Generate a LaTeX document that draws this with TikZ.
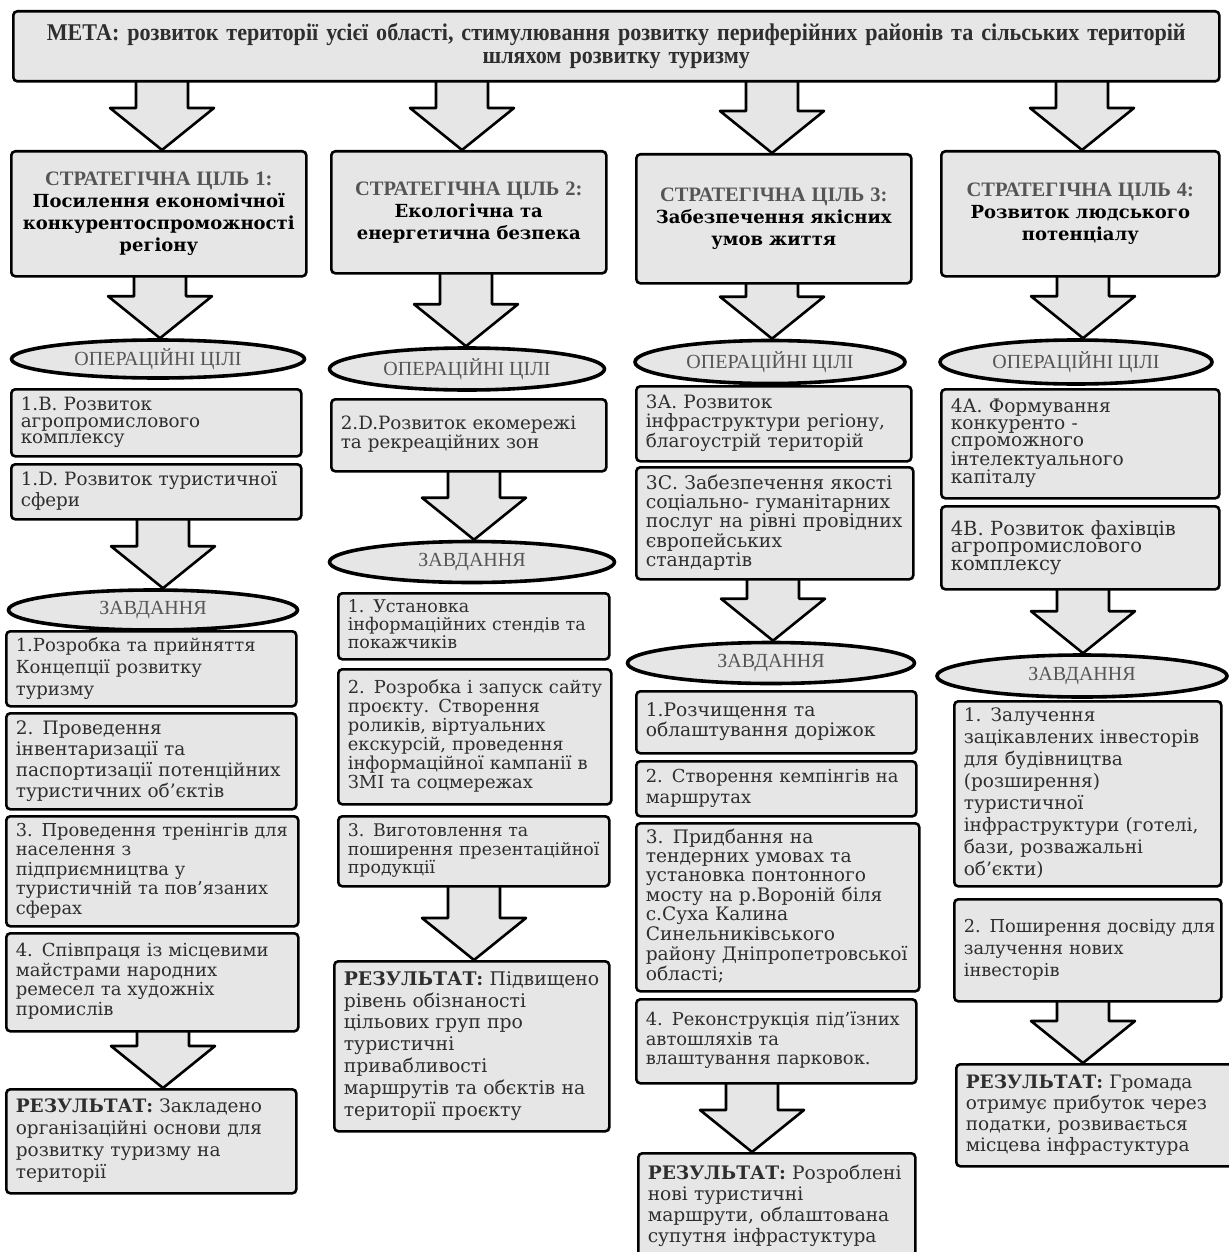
\documentclass[tikz,border=0pt]{standalone}
\usepackage{fontspec}
\setmainfont{DejaVu Serif}
\newfontfamily\timesf{Liberation Serif}
\newfontfamily\metaf[FakeStretch=0.92]{Liberation Serif}
\usetikzlibrary{shapes.geometric,backgrounds,calc}
\definecolor{boxfill}{HTML}{E6E6E6}
\definecolor{txt}{HTML}{2E2E2E}
\definecolor{headc}{HTML}{555555}
\tikzset{
 tbox/.style={draw=black, line width=2.6pt, fill=boxfill, rounded corners=4pt, anchor=north west, align=left, inner xsep=0pt, inner ysep=3pt, text=txt},
 sbox/.style={draw=black, line width=2.6pt, fill=boxfill, rounded corners=4pt, anchor=north west, align=center, inner xsep=0pt, text=black},
 ovalbox/.style={ellipse, draw=black, line width=3.6pt, fill=boxfill, inner sep=0pt, text=headc, font=\timesf\fontsize{20}{22}\selectfont},
 bigarrow/.style={draw=black, line width=2.6pt, fill=boxfill, line join=round},
}
\newcommand\TB[8]{%
 \pgfmathsetmacro\tw{#4-19}%
 \node[tbox, minimum width=#4pt, minimum height=#5pt, text width=\tw pt, font=\fontsize{#6}{#7}\selectfont] (#1) at (#2,#3) {\begin{tabular}{@{}l@{}}#8\end{tabular}};}
\newcommand\BA[3]{%
 \path[bigarrow] let \p1=(#1.south), \p2=(#2.north) in
 ({#3pt-26pt},{\y1+3pt}) -- ({#3pt-26pt},{\y2+42pt}) -- ({#3pt-52pt},{\y2+42pt}) -- (#3pt,\y2) -- ({#3pt+52pt},{\y2+42pt}) -- ({#3pt+26pt},{\y2+42pt}) -- ({#3pt+26pt},{\y1+3pt});}
\begin{document}
\begin{tikzpicture}[x=1pt,y=-1pt]
\useasboundingbox (0,0) rectangle (1228,1252);
% top
\node[sbox, minimum width=1206pt, minimum height=70pt, text width=1196pt, text=txt, font=\metaf\bfseries\fontsize{24}{23}\selectfont] (top) at (12,10) {МЕТА: розвиток території усієї області, стимулювання розвитку периферійних районів та сільських територій\\ шляхом розвитку туризму};
% strategic goals
\node[sbox, minimum width=295pt, minimum height=125pt, text width=285pt, font=\bfseries\fontsize{18}{22}\selectfont] (sc1) at (10,150) {{\timesf\fontsize{20.5}{22}\selectfont\color{headc}СТРАТЕГІЧНА ЦІЛЬ 1:}\\Посилення економічної\\конкурентоспроможності\\регіону};
\node[sbox, minimum width=275pt, minimum height=122pt, text width=265pt, font=\bfseries\fontsize{18}{22}\selectfont] (sc2) at (330,150) {{\timesf\fontsize{20.5}{22}\selectfont\color{headc}СТРАТЕГІЧНА ЦІЛЬ 2:}\\Екологічна та\\енергетична безпека};
\node[sbox, minimum width=275pt, minimum height=129pt, text width=265pt, font=\bfseries\fontsize{18}{22}\selectfont] (sc3) at (635,153) {{\timesf\fontsize{20.5}{22}\selectfont\color{headc}СТРАТЕГІЧНА ЦІЛЬ 3:}\\Забезпечення якісних\\умов життя};
\node[sbox, minimum width=278pt, minimum height=125pt, text width=268pt, font=\bfseries\fontsize{18}{22}\selectfont] (sc4) at (940,150) {{\timesf\fontsize{20.5}{22}\selectfont\color{headc}СТРАТЕГІЧНА ЦІЛЬ 4:}\\Розвиток людського\\потенціалу};
% operational ellipses
\node[ovalbox, minimum width=293pt, minimum height=38pt] (op1) at (158,359) {ОПЕРАЦІЙНІ ЦІЛІ};
\node[ovalbox, minimum width=275pt, minimum height=42pt] (op2) at (467,369) {ОПЕРАЦІЙНІ ЦІЛІ};
\node[ovalbox, minimum width=270pt, minimum height=43pt] (op3) at (770,362) {ОПЕРАЦІЙНІ ЦІЛІ};
\node[ovalbox, minimum width=272pt, minimum height=44pt] (op4) at (1076,362) {ОПЕРАЦІЙНІ ЦІЛІ};
% column 1
\TB{b1B}{10}{388}{290}{67}{18.3}{16.5}{1.B. Розвиток\\агропромислового\\комплексу}
\TB{b1D}{10}{463}{290}{55}{18.3}{21}{1.D. Розвиток туристичної\\сфери}
\node[ovalbox, minimum width=289pt, minimum height=40pt] (z1) at (153,610) {ЗАВДАННЯ};
\TB{t11}{5}{630}{290}{75}{18}{22}{1.Розробка та прийняття\\Концепції розвитку\\туризму}
\TB{t12}{5}{712}{290}{96}{18.5}{21}{2. Проведення\\інвентаризації та\\паспортизації потенційних\\туристичних об’єктів}
\TB{t13}{5}{815}{292}{110}{17.8}{19.5}{3. Проведення тренінгів для\\населення з\\підприємництва у\\туристичній та пов’язаних\\сферах}
\TB{t14}{5}{932}{292}{98}{18}{19.5}{4. Співпраця із місцевими\\майстрами народних\\ремесел та художніх\\промислів}
\TB{r1}{5}{1088}{290}{104}{18.5}{22}{\textbf{РЕЗУЛЬТАТ:} Закладено\\організаційні основи для\\розвитку туризму на\\території}
% column 2
\TB{b2D}{330}{398}{275}{72}{18.3}{18}{2.D.Розвиток екомережі\\та рекреаційних зон}
\node[ovalbox, minimum width=285pt, minimum height=41pt] (z2) at (472,562) {ЗАВДАННЯ};
\TB{t21}{337}{592}{271}{66}{17.5}{17}{1. Установка\\інформаційних стендів та\\покажчиків}
\TB{t22}{337}{668}{273}{135}{17.9}{19}{2. Розробка і запуск сайту\\проєкту. Створення\\роликів, віртуальних\\екскурсій, проведення\\інформаційної кампанії в\\ЗМІ та соцмережах}
\TB{t23}{337}{815}{271}{70}{17.4}{17.5}{3. Виготовлення та\\поширення презентаційної\\продукції}
\TB{r2}{333}{960}{275}{170}{18.8}{21.8}{\textbf{РЕЗУЛЬТАТ:} Підвищено\\рівень обізнаності\\цільових груп про\\туристичні\\привабливості\\маршрутів та обєктів на\\території проєкту}
% column 3
\TB{b3A}{635}{385}{275}{75}{18.4}{17}{3А. Розвиток\\інфраструктури регіону,\\благоустрій територій}
\TB{b3C}{635}{466}{277}{112}{18.8}{17.5}{3С. Забезпечення якості\\соціально- гуманітарних\\послуг на рівні провідних\\європейських\\стандартів}
\node[ovalbox, minimum width=287pt, minimum height=41pt] (z3) at (771,663) {ЗАВДАННЯ};
\TB{t31}{635}{690}{280}{62}{18.7}{20}{1.Розчищення та\\облаштування доріжок}
\TB{t32}{635}{760}{280}{55}{17.9}{21}{2. Створення кемпінгів на\\маршрутах}
\TB{t33}{635}{822}{283}{168}{18.6}{19}{3. Придбання на\\тендерних умовах та\\установка понтонного\\мосту на р.Вороній біля\\с.Суха Калина\\Синельниківського\\району Дніпропетровської\\області;}
\TB{t34}{635}{998}{280}{84}{17.9}{19.5}{4. Реконструкція під’їзних\\автошляхів та\\влаштування парковок.}
\TB{r3}{637}{1152}{277}{106}{18.6}{21}{\textbf{РЕЗУЛЬТАТ:} Розроблені\\нові туристичні\\маршрути, облаштована\\супутня інфрастуктура}
% column 4
\TB{b4A}{940}{388}{278}{109}{18.6}{17}{4А. Формування\\конкуренто -\\спроможного\\інтелектуального\\капіталу}
\TB{b4B}{940}{505}{278}{83}{19.5}{17.5}{4В. Розвиток фахівців\\агропромислового\\комплексу}
\node[ovalbox, minimum width=290pt, minimum height=42pt] (z4) at (1082,676) {ЗАВДАННЯ};
\TB{t41}{953}{700}{267}{185}{18.5}{22}{1. Залучення\\зацікавлених інвесторів\\для будівництва\\(розширення)\\туристичної\\інфраструктури (готелі,\\бази, розважальні\\об’єкти)}
\TB{t42}{953}{898}{267}{102}{17.8}{22}{2. Поширення досвіду для\\залучення нових\\інвесторів}
\TB{r4}{955}{1063}{280}{102}{18.5}{21}{\textbf{РЕЗУЛЬТАТ:} Громада\\отримує прибуток через\\податки, розвивається\\місцева інфрастуктура}
% arrows
\begin{pgfonlayer}{background}
\fill[white] (0,0) rectangle (1228,1252);
\BA{top}{sc1}{162}
\BA{top}{sc2}{462}
\BA{top}{sc3}{772}
\BA{top}{sc4}{1082}
\BA{sc1}{op1}{160}
\BA{sc2}{op2}{466}
\BA{sc3}{op3}{772}
\BA{sc4}{op4}{1083}
\BA{b1D}{z1}{163}
\BA{b2D}{z2}{474}
\BA{b3C}{z3}{773}
\BA{b4B}{z4}{1083}
\BA{t14}{r1}{163}
\BA{t23}{r2}{474}
\BA{t34}{r3}{752}
\BA{t42}{r4}{1083}
\end{pgfonlayer}
\end{tikzpicture}
\end{document}
